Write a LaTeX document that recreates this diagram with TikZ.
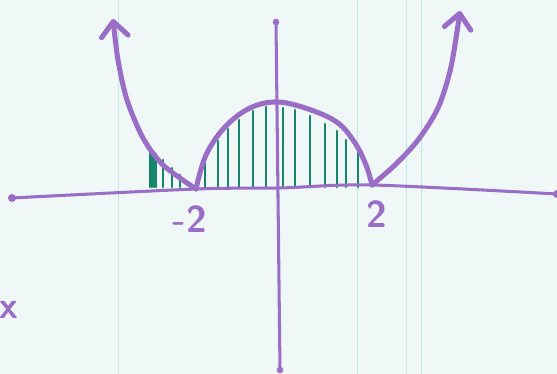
\documentclass[tikz,border=0pt]{standalone}
\usetikzlibrary{arrows.meta}
\definecolor{Lilac}{HTML}{9A6EC6}
\definecolor{Hatch}{HTML}{16866A}
\definecolor{Paper}{HTML}{EFF8F7}
\definecolor{Rule}{HTML}{BFE9E4}

\begin{document}
\begin{tikzpicture}[x=0.03cm,y=-0.03cm,line cap=round,line join=round,
    curve/.style={Lilac,line width=4.3pt},
    axis/.style={Lilac,line width=2.6pt},
    hatch/.style={Hatch,line width=2.3pt},
    lab/.style={Lilac,font=\sffamily\bfseries\fontsize{32}{32}\selectfont}]
  % paper
  \fill[Paper] (0,0) rectangle (557,374);
  \useasboundingbox (0,0) rectangle (557,374);
  \foreach \xr in {118,357,406,421}
    \draw[Rule,line width=0.8pt] (\xr,0) -- (\xr,374);

  % points
  \coordinate (xl) at (12,198);
  \coordinate (xm) at (280,188);
  \coordinate (xr) at (557,194);
  \coordinate (yt) at (276,22);
  \coordinate (yb) at (280,370);
  \coordinate (m2) at (196,189);
  \coordinate (p2) at (372,185);
  \coordinate (top) at (278,102);
  \coordinate (al) at (113,19);
  \coordinate (ar) at (460,11);

  % shading under the curve
  \foreach \hx/\hy in {150/152,152/151,154/152,156/154,163/160,172/168,180/175,
                       205/162,218/141,228/129,239/120,253/111,266/107,
                       283/108,295/110,310/116,325/124,337/131,346/140,358/152}
    \draw[hatch] (\hx,187) -- (\hx,\hy);

  % axes
  \draw[axis] plot[smooth] coordinates {(xl) (m2) (xm) (p2) (xr)};
  \draw[axis] (yt) -- (yb);
  \fill[Lilac] (xl) circle (1.2mm);
  \fill[Lilac] (xr) circle (1.2mm);
  \fill[Lilac] (yt) circle (1mm);
  \fill[Lilac] (yb) circle (1mm);

  % curve
  \draw[curve,-{Straight Barb[round,length=4.5mm,width=8mm]}]
    plot[smooth] coordinates {(m2) (163,165) (143,138) (127,100) (118,60) (al)};
  \draw[curve] plot[smooth,tension=0.6] coordinates {(m2) (206,155) (225,127) (250,108) (top)
    (311,110) (338,123) (355,143) (366,165) (p2)};
  \draw[curve,-{Straight Barb[round,length=4.5mm,width=8mm]}]
    plot[smooth] coordinates {(p2) (395,165) (418,140) (438,108) (451,67) (ar)};

  % labels
  \node[lab] (lm2) at (190,219) {-2};
  \node[lab] (lp2) at (377,214) {2};
  \node[lab] (lx) at (9,310) {x};
\end{tikzpicture}
\end{document}
